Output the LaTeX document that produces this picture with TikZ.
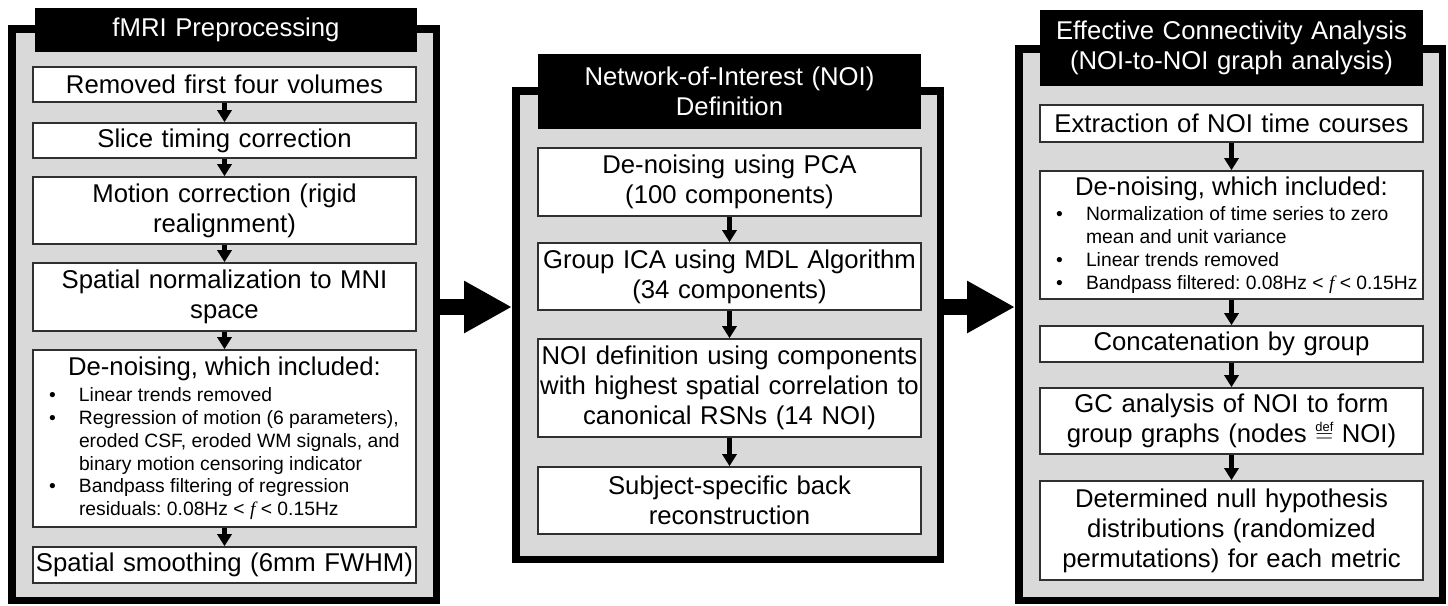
\documentclass[tikz,border=0pt]{standalone}
\usepackage{fontspec}
\setmainfont{Liberation Sans}
\newfontfamily\serifit{Liberation Serif}
\usetikzlibrary{arrows.meta}
\definecolor{panelgray}{HTML}{D9D9D9}
\definecolor{boxline}{HTML}{303030}
\setlength\parindent{0pt}
\newcommand\bigtxt{\fontsize{25.7pt}{30pt}\selectfont\spaceskip=0.278em\xspaceskip=0.278em\relax}
\newcommand\smalltxt{\fontsize{19.3pt}{22.8pt}\selectfont\spaceskip=0.278em\xspaceskip=0.278em\relax}
\newcommand\fit{{\serifit\itshape f}}
\newcommand\bul[1]{\makebox[44pt][l]{\hspace{14pt}\textbullet}\mbox{#1}}
\newcommand\cont[1]{\hspace*{44pt}\mbox{#1}}
\newcommand\dnhead{{\centering\bigtxt De-noising, which included:\par}\vspace{3pt}}
\tikzset{
  panel/.style={draw=black, line width=7.5pt, fill=panelgray, inner sep=0pt, outer sep=3.75pt},
  titlebox/.style={fill=black, text=white, inner sep=0pt, align=center, font=\bigtxt, text width=380pt},
  stepbox/.style={draw=boxline, line width=1.6pt, fill=white, minimum width=383pt, text width=379pt, inner xsep=2pt, inner ysep=0pt, align=center, font=\bigtxt},
  listbox/.style={draw=boxline, line width=1.6pt, fill=white, minimum width=383pt, text width=379pt, inner xsep=2pt, inner ysep=0pt, font=\bigtxt},
  flowarrow/.style={line width=4.5pt, -{Triangle[width=14pt,length=12pt]}, black},
  bigarrow/.style={line width=16pt, -{Triangle[width=49pt,length=48pt]}, black}
}
\begin{document}
\begin{tikzpicture}[x=1pt,y=-1pt]
\useasboundingbox (0,0) rectangle (1448,605);
% panels
\node[panel, minimum width=424.5pt, minimum height=571.5pt] (LP) at (224,314.5) {};
\node[panel, minimum width=424.5pt, minimum height=468.5pt] (MP) at (728,325) {};
\node[panel, minimum width=423.5pt, minimum height=551.5pt] (RP) at (1230.5,324.5) {};
% titles
\node[titlebox, minimum width=382pt, minimum height=44pt] (LT) at (226,30) {fMRI Preprocessing};
\node[titlebox, minimum width=383pt, minimum height=75pt] (MT) at (729.5,91.5) {Network-of-Interest (NOI)\\Definition};
\node[titlebox, minimum width=383pt, minimum height=76pt] (RT) at (1231.5,48) {Effective Connectivity Analysis\\(NOI-to-NOI graph analysis)};
% left steps
\node[stepbox, minimum height=35pt] (L1) at (224.5,84.5) {Removed first four volumes};
\node[stepbox, minimum height=35pt] (L2) at (224.5,140.5) {Slice timing correction};
\node[stepbox, minimum height=67pt] (L3) at (224.5,210.5) {Motion correction (rigid\\realignment)};
\node[stepbox, minimum height=68pt] (L4) at (224.5,297) {Spatial normalization to MNI\\space};
\node[listbox, minimum height=177pt] (L5) at (224.5,438.5) {\dnhead
{\raggedright\smalltxt
\bul{Linear trends removed}\\
\bul{Regression of motion (6 parameters),}\\
\cont{eroded CSF, eroded WM signals, and}\\
\cont{binary motion censoring indicator}\\
\bul{Bandpass filtering of regression}\\
\cont{residuals: 0.08Hz < \fit{} < 0.15Hz}\par}};
\node[stepbox, minimum height=36pt] (L6) at (224.5,565) {Spatial smoothing (6mm FWHM)};
% middle steps
\node[stepbox, minimum height=68pt] (M1) at (729.5,182) {De-noising using PCA\\(100 components)};
\node[stepbox, minimum height=67pt] (M2) at (729.5,276.5) {Group ICA using MDL Algorithm\\(34 components)};
\node[stepbox, minimum height=98pt] (M3) at (729.5,388) {NOI definition using components\\with highest spatial correlation to\\canonical RSNs (14 NOI)};
\node[stepbox, minimum height=67pt] (M4) at (729.5,500.5) {Subject-specific back\\reconstruction};
% right steps
\node[stepbox, minimum height=37pt] (R1) at (1231.5,123.5) {Extraction of NOI time courses};
\node[listbox, minimum height=128pt] (R2) at (1231.5,235) {\dnhead
{\raggedright\smalltxt
\bul{Normalization of time series to zero}\\
\cont{mean and unit variance}\\
\bul{Linear trends removed}\\
\bul{Bandpass filtered: 0.08Hz < \fit{} < 0.15Hz}\par}};
\node[stepbox, minimum height=36pt] (R3) at (1231.5,344) {Concatenation by group};
\node[stepbox, minimum height=66pt] (R4) at (1231.5,421) {GC analysis of NOI to form\\group graphs (nodes $\stackrel{\scriptscriptstyle\mathrm{def}}{=}$ NOI)};
\node[stepbox, minimum height=99pt] (R5) at (1231.5,530.5) {Determined null hypothesis\\distributions (randomized\\permutations) for each metric};
% arrows inside panels
\draw[flowarrow] (L1) -- (L2);
\draw[flowarrow] (L2) -- (L3);
\draw[flowarrow] (L3) -- (L4);
\draw[flowarrow] (L4) -- (L5);
\draw[flowarrow] (L5) -- (L6);
\draw[flowarrow] (M1) -- (M2);
\draw[flowarrow] (M2) -- (M3);
\draw[flowarrow] (M3) -- (M4);
\draw[flowarrow] (R1) -- (R2);
\draw[flowarrow] (R2) -- (R3);
\draw[flowarrow] (R3) -- (R4);
\draw[flowarrow] (R4) -- (R5);
% big arrows between panels
\coordinate (ay) at (0,307);
\draw[bigarrow] (LP.east |- ay) -- (MP.west |- ay);
\draw[bigarrow] (MP.east |- ay) -- (RP.west |- ay);
\end{tikzpicture}
\end{document}
